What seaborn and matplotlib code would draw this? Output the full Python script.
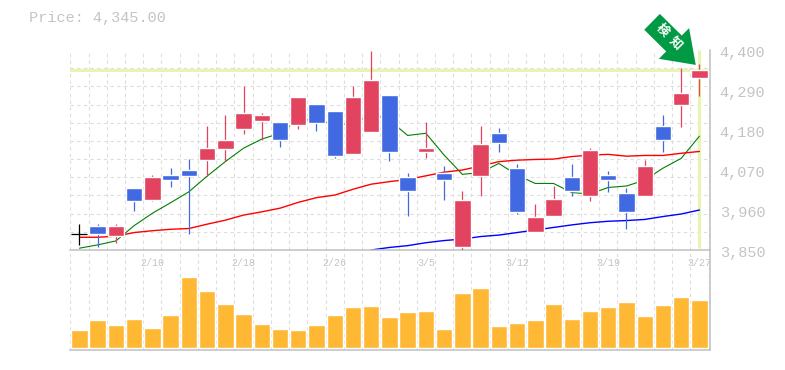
import numpy as np
import pandas as pd
import matplotlib
matplotlib.use('Agg')
import matplotlib.pyplot as plt
from matplotlib.transforms import ScaledTranslation
import seaborn as sns

# daily prices
opens = [3895, 3916, 3888, 4020, 3987, 4056, 4070, 4097, 4128, 4183, 4205, 4202,
         4194, 4251, 4232, 4114, 4174, 4276, 4051, 4120, 4062, 3858, 4053, 4172,
         4075, 3900, 3943, 4051, 3998, 4056, 4007, 3998, 4191, 4249, 4323]
closes = [3895, 3894, 3916, 3985, 4051, 4042, 4053, 4130, 4152, 4227, 4221, 4152,
          4271, 4199, 4108, 4271, 4317, 4120, 4012, 4130, 4042, 3987, 4141, 4144,
          3954, 3941, 3990, 4012, 4125, 4042, 3954, 4081, 4152, 4282, 4345]
highs = [3922, 3922, 3922, 4020, 4056, 4075, 4100, 4191, 4221, 4301, 4227, 4202,
         4271, 4251, 4232, 4301, 4397, 4276, 4062, 4202, 4081, 4012, 4191, 4185,
         4086, 3976, 4026, 4086, 4130, 4067, 4020, 4097, 4221, 4350, 4361]
lows = [3864, 3858, 3869, 3957, 3985, 4023, 3894, 4053, 4095, 4169, 4152, 4133,
        4183, 4177, 4103, 4114, 4174, 4095, 3943, 4103, 3987, 3850, 3998, 4119,
        3949, 3900, 3943, 3998, 3985, 4009, 3908, 3998, 4119, 4188, 4273]

ma_short = [3855, 3864, 3875, 3917, 3951, 3980, 4010, 4053, 4093, 4130, 4155, 4171,
            4209, 4207, 4196, 4196, 4224, 4207, 4165, 4171, 4111, 4058, 4063, 4088,
            4056, 4033, 4033, 4008, 4004, 4022, 4026, 4042, 4075, 4102, 4163]
ma_mid = [3885, 3885, 3888, 3898, 3903, 3907, 3909, 3921, 3932, 3946, 3955, 3965,
          3981, 3994, 4001, 4017, 4031, 4038, 4044, 4054, 4064, 4070, 4081, 4093,
          4097, 4099, 4100, 4107, 4111, 4113, 4108, 4110, 4110, 4116, 4121]
ma_long = [np.nan] * 16 + [3850, 3857, 3862, 3870, 3876, 3880, 3887, 3891, 3898, 3905,
                           3912, 3919, 3925, 3929, 3931, 3934, 3942, 3949, 3960]

volume = [54, 84, 69, 87, 60, 99, 213, 171, 132, 102, 72, 57, 54, 69, 99, 123, 126, 93,
          108, 111, 57, 165, 180, 66, 75, 84, 132, 87, 111, 123, 138, 96, 129, 153, 144]

date_pos = [4, 9, 14, 19, 24, 29, 34]
date_labels = ['2/10', '2/18', '2/26', '3/5', '3/12', '3/19', '3/27']
price_ticks = [3850, 3960, 4070, 4180, 4290, 4400]
last_price = 4345

GREY = '#c4c4c4'
GRID = '#dddddd'
AXIS = '#c0c0c0'
UP = '#e2435f'
DOWN = '#4169e1'
HILITE = '#e6f5b0'
W, H = 785, 370

sns.set_theme(style='white')
plt.rcParams['font.family'] = ['Liberation Mono', 'Noto Sans CJK JP', 'DejaVu Sans']

fig = plt.figure(figsize=(W / 100, H / 100), dpi=100)
ax = fig.add_axes([70.3 / W, 1 - 250 / H, 639.7 / W, 200 / H])
vol_ax = fig.add_axes([70.3 / W, 1 - 350 / H, 639.7 / W, 100 / H])
ax.set_zorder(2)
ax.patch.set_visible(False)

days = np.arange(len(closes))
xlim = (-0.5, 34.58)

# volume panel, bars stand a little above the bottom line
sns.barplot(x=days, y=volume, ax=vol_ax, color='#ffb833', saturation=1, width=0.9, zorder=2)
vol_ax.set_xlim(xlim)
vol_ax.set_ylim(-6, 294)
vol_ax.set_xticks([])
vol_ax.set_xticks(np.arange(-0.5, 34.6), minor=True)
vol_ax.set_yticks([])
vol_ax.set_xlabel('')
vol_ax.set_ylabel('')
vol_ax.grid(which='minor', axis='x', color=GRID, ls=(0, (3, 3)), lw=0.8)
vol_ax.tick_params(which='both', length=0)
for side in ['top', 'left']:
    vol_ax.spines[side].set_visible(False)
for side in ['right', 'bottom']:
    vol_ax.spines[side].set_color(AXIS)
    vol_ax.spines[side].set_linewidth(1.1)

# price panel
ax.axhline(last_price, color=HILITE, lw=2.2, zorder=1)
ax.plot([days[-1], days[-1]], [3855, 4400], color=HILITE, lw=2.2, zorder=1, solid_capstyle='butt')

line_df = pd.DataFrame({'day': days, 'short': ma_short, 'mid': ma_mid, 'long': ma_long})
sns.lineplot(data=line_df, x='day', y='short', ax=ax, color='#008000', lw=0.8, zorder=2)
sns.lineplot(data=line_df, x='day', y='mid', ax=ax, color='#ff0000', lw=1.0, zorder=2)
sns.lineplot(data=line_df, x='day', y='long', ax=ax, color='#0000ff', lw=1.0, zorder=2)

for d, o, c, hi, lo in zip(days, opens, closes, highs, lows):
    if o == c:
        col = 'black'
    elif c > o:
        col = UP
    else:
        col = DOWN
    ax.vlines(d, lo, hi, color=col, lw=0.9, zorder=3)
    if o == c:
        ax.hlines(o, d - 0.44, d + 0.44, color=col, lw=0.9, zorder=3)
    else:
        ax.bar(d, abs(c - o), bottom=min(o, c), width=0.9, color=col, zorder=4)

ax.set_xlim(xlim)
ax.set_ylim(3850, 4400)
ax.set_xlabel('')
ax.set_ylabel('')
ax.set_xticks(date_pos, date_labels)
ax.set_xticks(np.arange(-0.5, 34.6), minor=True)
ax.set_yticks(price_ticks, [f'{p:,}' for p in price_ticks])
ax.set_yticks(np.arange(3850, 4401, 50), minor=True)
ax.yaxis.tick_right()
ax.grid(False)
ax.grid(which='minor', color=GRID, ls=(0, (3, 3)), lw=0.8, zorder=0)
ax.set_axisbelow(True)
ax.tick_params(which='both', length=0)
ax.tick_params(axis='y', which='major', pad=7, labelsize=11, labelcolor=GREY)
ax.tick_params(axis='x', which='major', pad=5.5, labelsize=7.2, labelcolor=GREY)
label_shift = ScaledTranslation(0, -2 / 100, fig.dpi_scale_trans)
for label in ax.get_yticklabels():
    label.set_transform(label.get_transform() + label_shift)
for side in ['top', 'left']:
    ax.spines[side].set_visible(False)
for side in ['right', 'bottom']:
    ax.spines[side].set_color(AXIS)
    ax.spines[side].set_linewidth(1.1)

# signal arrow over the last candle
tip = (33.8, 4359)
ax.annotate('', xy=tip, xytext=(-31.5, 31), textcoords='offset points',
            arrowprops=dict(facecolor='#009944', edgecolor='none', width=16, headwidth=31,
                            headlength=22, shrink=0), annotation_clip=False, zorder=6)
for ch, off in zip('検知', [(-24.5, 24.7), (-15, 15.8)]):
    ax.annotate(ch, xy=tip, xytext=off, textcoords='offset points', rotation=-45,
                rotation_mode='anchor', ha='center', va='center', color='white',
                fontsize=9, fontweight='bold', annotation_clip=False, zorder=7)

fig.text(29 / W, 1 - 18 / H, f'Price: {last_price:,.2f}', color=GREY, fontsize=11, va='center')

fig.savefig('out.png', dpi=100, facecolor='white')
